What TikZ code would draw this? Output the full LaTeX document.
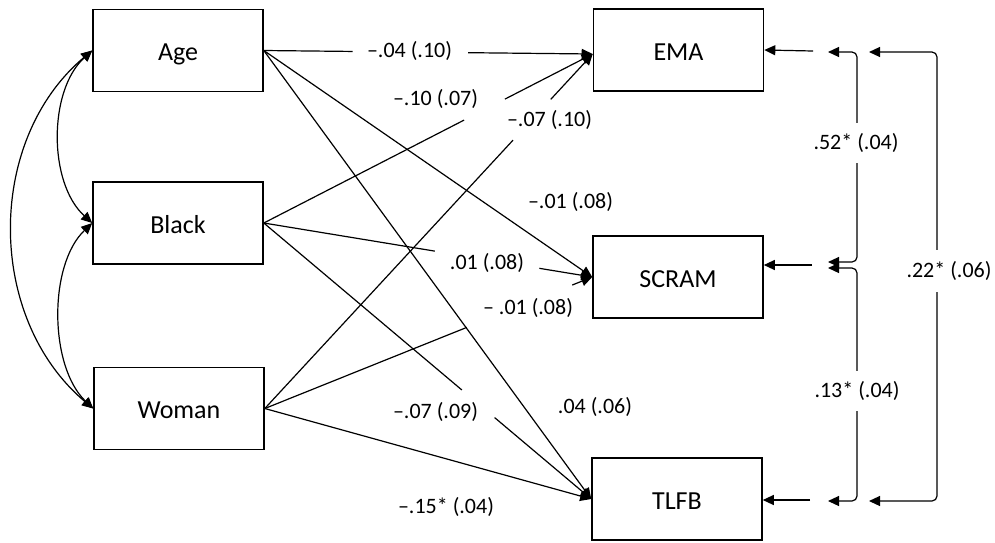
\documentclass[tikz,border=0pt]{standalone}
\usepackage{fontspec}
\setmainfont{Carlito}
\usetikzlibrary{arrows.meta,calc}
\begin{document}
\begin{tikzpicture}[x=1pt,y=-1pt,
  var/.style={draw, line width=1.6pt, minimum width=170pt, minimum height=82pt,
    inner sep=0pt, text height=20.5pt, text depth=0pt,
    font=\fontsize{26}{30}\selectfont},
  coef/.style={font=\fontsize{22}{26}\selectfont, inner sep=1pt},
  brlabel/.style={coef, fill=white, inner xsep=2pt, inner ysep=10pt},
  link/.style={line width=1.2pt},
  >={Triangle[length=11pt,width=10pt]}]
\useasboundingbox (0,0) rectangle (995,542);
\fill[white] (0,0) rectangle (995,542);

% predictors
\node[var] (age)   at (178,50.5)  {Age};
\node[var] (black) at (178,223)   {Black};
\node[var] (woman) at (179,408.5) {Woman};
% outcomes
\node[var] (ema)   at (678.5,50) {EMA};
\node[var] (scram) at (678,277)  {SCRAM};
\node[var] (tlfb)  at (677,499)  {TLFB};

\coordinate (tE) at ([yshift=-4pt]ema.west);

% covariances among predictors
\draw[link,<->] (age.west) .. controls +(-44,40) and +(-44,-40) .. (black.west);
\draw[link,<->] (black.west) .. controls +(-44,42) and +(-44,-42) .. (woman.west);
\draw[link,<->] (age.west) .. controls +(-107,90) and +(-107,-90) .. (woman.west);

% paths to EMA
\draw[link] (age.east) -- ($(age.east)!0.27!(tE)$);
\draw[link,->] ($(age.east)!0.621!(tE)$) -- (tE);
\node[coef] (pAE) at (409.5,50.5) {–.04 (.10)};

\draw[link] (black.east) -- ($(black.east)!0.609!(tE)$);
\draw[link,->] ($(black.east)!0.733!(tE)$) -- (tE);
\node[coef] (pBE) at (435.5,99) {–.10 (.07)};

\draw[link] (woman.east) -- ($(woman.east)!0.757!(tE)$);
\draw[link,->] ($(woman.east)!0.872!(tE)$) -- (tE);
\node[coef] (pWE) at (549.5,120) {–.07 (.10)};

% paths to SCRAM
\draw[link,->] (age.east) -- (scram.west);
\node[coef] (pAS) at (570.5,202) {–.01 (.08)};

\draw[link] (black.east) -- ($(black.east)!0.521!(scram.west)$);
\draw[link,->] ($(black.east)!0.839!(scram.west)$) -- (scram.west);
\node[coef] (pBS) at (487,263) {.01 (.08)};

\draw[link] (woman.east) -- ($(woman.east)!0.617!(scram.west)$);
\draw[link,->] ($(woman.east)!0.939!(scram.west)$) -- (scram.west);
\node[coef] (pWS) at (528,308) {– .01 (.08)};

% paths to TLFB
\draw[link,->] (age.east) -- (tlfb.west);
\node[coef] (pAT) at (595,407) {.04 (.06)};

\draw[link] (black.east) -- ($(black.east)!0.605!(tlfb.west)$);
\draw[link,->] ($(black.east)!0.705!(tlfb.west)$) -- (tlfb.west);
\node[coef] (pBT) at (435.5,412) {–.07 (.09)};

\draw[link,->] (woman.east) -- (tlfb.west);
\node[coef] (pWT) at (446,507) {–.15* (.04)};

% residual covariances among outcomes
\coordinate (eT) at (813,51);
\coordinate (sT) at (812,265);
\coordinate (lT) at (810,500);
\draw[link,->] (eT) -- (ema.east);
\draw[link,->] (sT) -- (scram.east |- sT);
\draw[link,->] (lT) -- (tlfb.east |- lT);

\coordinate (b1a) at (828,52);
\coordinate (b1b) at (828,262);
\draw[link,<->,rounded corners=5pt] (b1a) -| (857,157) |- (b1b);
\node[brlabel] (r1) at (856,143) {.52* (.04)};

\coordinate (b2a) at (828,268);
\coordinate (b2b) at (828,501);
\draw[link,<->,rounded corners=5pt] (b2a) -| (857,385) |- (b2b);
\node[brlabel] (r2) at (857,391) {.13* (.04)};

\coordinate (b3a) at (869,52);
\coordinate (b3b) at (869,501);
\draw[link,<->,rounded corners=5pt] (b3a) -| (937,270) |- (b3b);
\node[brlabel, inner ysep=11pt] (r3) at (949,271) {.22* (.06)};
\end{tikzpicture}
\end{document}
